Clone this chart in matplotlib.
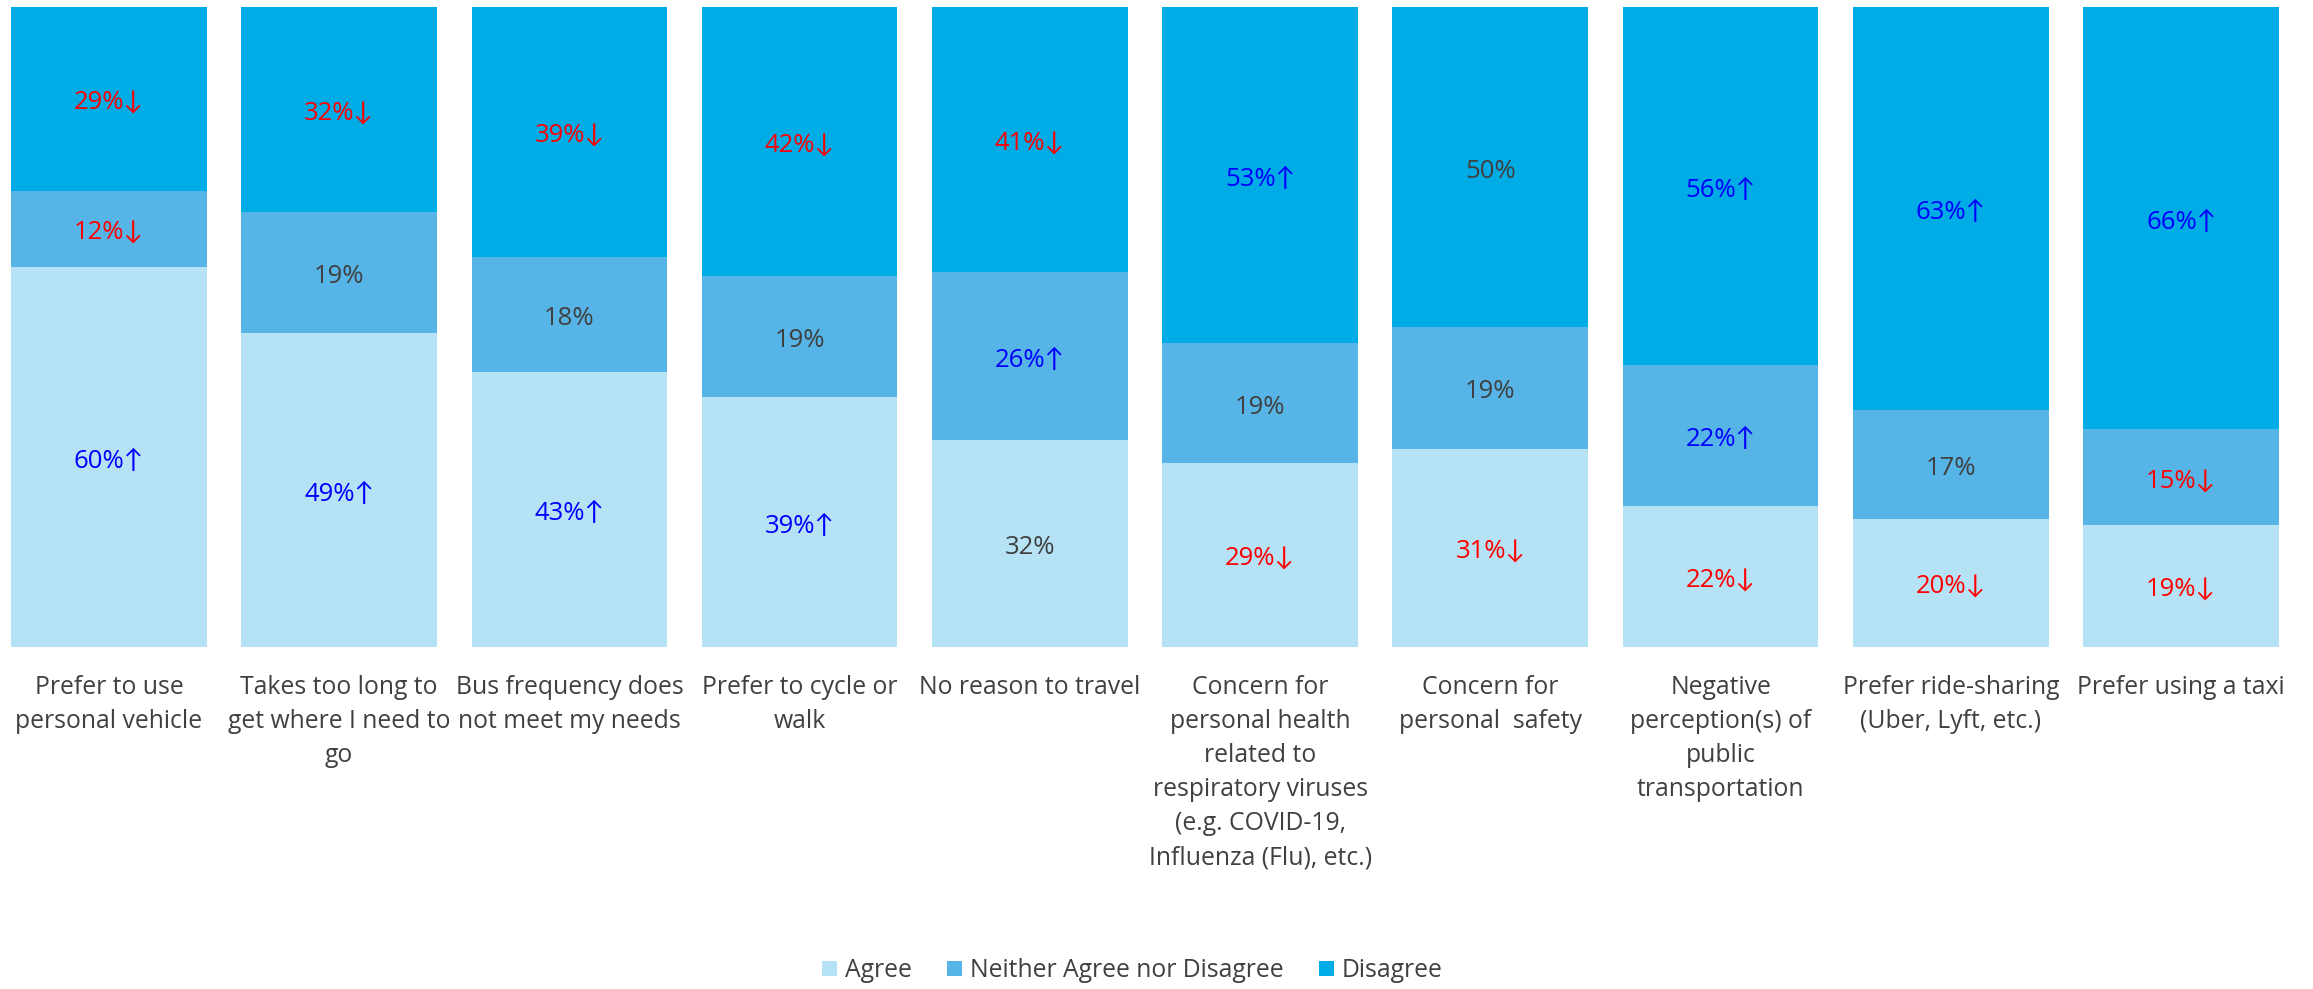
import matplotlib.pyplot as plt
import numpy as np

categories = [
    "Prefer to use\npersonal vehicle",
    "Takes too long to\nget where I need to\ngo",
    "Bus frequency does\nnot meet my needs",
    "Prefer to cycle or\nwalk",
    "No reason to travel",
    "Concern for\npersonal health\nrelated to\nrespiratory viruses\n(e.g. COVID-19,\nInfluenza (Flu), etc.)",
    "Concern for\npersonal  safety",
    "Negative\nperception(s) of\npublic\ntransportation",
    "Prefer ride-sharing\n(Uber, Lyft, etc.)",
    "Prefer using a taxi",
]
agree = [60, 49, 43, 39, 32, 29, 31, 22, 20, 19]
neither = [12, 19, 18, 19, 26, 19, 19, 22, 17, 15]
disagree = [29, 32, 39, 42, 41, 53, 50, 56, 63, 66]
# trend markers: +1 up (blue), -1 down (red), 0 none
agree_trend = [1, 1, 1, 1, 0, -1, -1, -1, -1, -1]
neither_trend = [-1, 0, 0, 0, 1, 0, 0, 1, 0, -1]
disagree_trend = [-1, -1, -1, -1, -1, 1, 0, 1, 1, 1]

series_names = ["Agree", "Neither Agree nor Disagree", "Disagree"]
colors = ["#B5E3F5", "#56B4E6", "#00ACE6"]

plt.rcParams["font.family"] = ["Open Sans", "Lato", "DejaVu Sans"]

fig = plt.figure(figsize=(23.13, 9.89), dpi=100)
ax = fig.add_axes([0, 0.3458, 1, 0.6471])

x = np.arange(len(categories))
raw = np.array([agree, neither, disagree], dtype=float)
shares = raw / raw.sum(axis=0) * 100
trends = [agree_trend, neither_trend, disagree_trend]

bottom = np.zeros(len(categories))
for vals, share, trend, name, col in zip(raw, shares, trends, series_names, colors):
    bars = ax.bar(x, share, 0.85, bottom=bottom, color=col, label=name, edgecolor="none")
    labels = []
    for v, t in zip(vals, trend):
        arrow = "\u2191" if t > 0 else ("\u2193" if t < 0 else "")
        labels.append(f"{int(v)}%{arrow}")
    texts = ax.bar_label(bars, labels=labels, label_type="center", fontsize=18.5)
    for txt, t in zip(texts, trend):
        txt.set_color("#0000FF" if t > 0 else ("#FF0000" if t < 0 else "#404040"))
        txt.xyann = (0, -3)
    bottom += share

ax.set_xlim(-0.473, 9.573)
ax.set_ylim(0, 100)
ax.set_xticks(x)
ax.set_xticklabels(categories, fontsize=17.8, color="#404040", linespacing=1.48)
ax.tick_params(axis="x", length=0, pad=20)
ax.set_yticks([])
for s in ax.spines.values():
    s.set_visible(False)

fig.legend(loc="center", bbox_to_anchor=(0.4895, 0.0186), ncol=3, frameon=False,
           fontsize=17.8, labelcolor="#404040", handlelength=0.6, handleheight=0.6,
           handletextpad=0.3, columnspacing=1.45)

fig.savefig("out.png", dpi=100)
